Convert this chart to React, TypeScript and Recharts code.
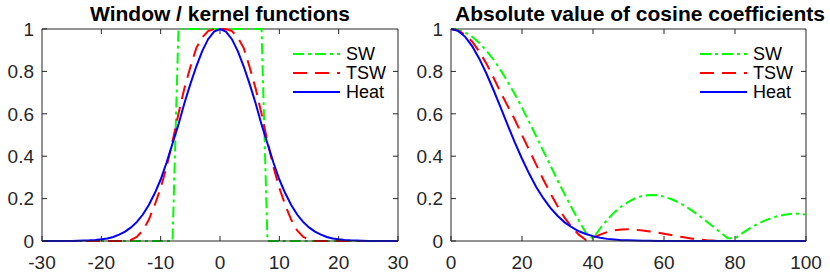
import { Line, LineChart, ReferenceLine, XAxis, YAxis } from 'recharts';

// left panel: window / kernel functions, sampled at integer x
const LEFT_X = [
  -30, -29, -28, -27, -26, -25, -24, -23, -22, -21, -20, -19, -18, -17, -16, -15, -14, -13, -12, -11,
  -10, -9, -8, -7, -6, -5, -4, -3, -2, -1, 0, 1, 2, 3, 4, 5, 6, 7, 8, 9, 10, 11, 12, 13, 14, 15, 16,
  17, 18, 19, 20, 21, 22, 23, 24, 25, 26, 27, 28, 29, 30,
];
const LEFT_SW = [
  0, 0, 0, 0, 0, 0, 0, 0, 0, 0, 0, 0, 0, 0, 0, 0, 0, 0, 0, 0, 0, 0, 0,
  1, 1, 1, 1, 1, 1, 1, 1, 1, 1, 1, 1, 1, 1, 1,
  0, 0, 0, 0, 0, 0, 0, 0, 0, 0, 0, 0, 0, 0, 0, 0, 0, 0, 0, 0, 0, 0, 0,
];
const LEFT_TSW = [
  0, 0, 0, 0, 0, 0, 0, 0, 0, 0, 0, 0, 0, 0, 0, 0.005, 0.02, 0.05, 0.1, 0.17,
  0.25, 0.35, 0.47, 0.6, 0.72, 0.82, 0.91, 0.96, 0.99, 1, 1, 1, 0.99, 0.96, 0.91, 0.82, 0.72, 0.6,
  0.47, 0.35, 0.25, 0.17, 0.1, 0.05, 0.02, 0.005, 0, 0, 0, 0, 0, 0, 0, 0, 0, 0, 0, 0, 0, 0, 0,
];
const LEFT_HEAT = [
  0, 0, 0, 0, 0, 0, 0.001, 0.002, 0.003, 0.005, 0.008, 0.012, 0.019, 0.03, 0.044, 0.064, 0.09,
  0.125, 0.17, 0.225, 0.29, 0.37, 0.46, 0.55, 0.65, 0.74, 0.823, 0.896, 0.952, 0.988, 1, 0.988,
  0.952, 0.896, 0.823, 0.74, 0.65, 0.55, 0.46, 0.37, 0.29, 0.225, 0.17, 0.125, 0.09, 0.064, 0.044,
  0.03, 0.019, 0.012, 0.008, 0.005, 0.003, 0.002, 0.001, 0, 0, 0, 0, 0, 0,
];
const LEFT_TICKS = [-30, -20, -10, 0, 10, 20, 30];

// right panel: |cosine coefficients|, every second index
const RIGHT_K = [
  0, 2, 4, 6, 8, 10, 12, 14, 16, 18, 20, 22, 24, 26, 28, 30, 32, 34, 36, 38, 40, 42, 44, 46, 48, 50,
  52, 54, 56, 58, 60, 62, 64, 66, 68, 70, 72, 74, 76, 78, 80, 82, 84, 86, 88, 90, 92, 94, 96, 98, 100,
];
const RIGHT_SW = [
  1, 0.996, 0.983, 0.963, 0.934, 0.898, 0.855, 0.806, 0.751, 0.692, 0.629, 0.562, 0.494, 0.425,
  0.356, 0.287, 0.221, 0.157, 0.096, 0.039, 0.012, 0.059, 0.1, 0.135, 0.163, 0.185, 0.203, 0.213,
  0.217, 0.216, 0.209, 0.198, 0.183, 0.164, 0.142, 0.118, 0.092, 0.066, 0.039, 0.013, 0.012, 0.036,
  0.058, 0.077, 0.094, 0.107, 0.117, 0.124, 0.128, 0.128, 0.125,
];
const RIGHT_TSW = [
  1, 0.993, 0.972, 0.94, 0.893, 0.836, 0.77, 0.7, 0.636, 0.572, 0.5, 0.43, 0.36, 0.29, 0.225, 0.165,
  0.11, 0.065, 0.03, 0.005, 0.015, 0.03, 0.042, 0.05, 0.054, 0.055, 0.053, 0.05, 0.045, 0.04, 0.034,
  0.028, 0.022, 0.016, 0.011, 0.007, 0.004, 0.002, 0.001, 0, 0, 0, 0, 0, 0, 0, 0, 0, 0, 0, 0,
];
const RIGHT_HEAT = [
  1, 0.991, 0.963, 0.918, 0.859, 0.789, 0.711, 0.629, 0.545, 0.464, 0.388, 0.318, 0.255, 0.202,
  0.156, 0.119, 0.088, 0.065, 0.046, 0.033, 0.023, 0.015, 0.01, 0.007, 0.004, 0.003, 0.002, 0.001,
  0.001, 0, 0, 0, 0, 0, 0, 0, 0, 0, 0, 0, 0, 0, 0, 0, 0, 0, 0, 0, 0, 0, 0,
];
const RIGHT_TICKS = [0, 20, 40, 60, 80, 100];

const Y_TICKS = [0, 0.2, 0.4, 0.6, 0.8, 1];

const SERIES = [
  { key: 'sw', label: 'SW', color: '#00ff00', dash: '11 4 3 4' },
  { key: 'tsw', label: 'TSW', color: '#ff0000', dash: '14 8' },
  { key: 'heat', label: 'Heat', color: '#0000ff', dash: undefined },
];

const FONT = "'Liberation Sans', Arial, Helvetica, sans-serif";
const AXIS = '#262626';
const PLOT_W = 356;
const PLOT_H = 212;
const TICK_PX = 5;

const leftData = LEFT_X.map((x, i) => ({ x, sw: LEFT_SW[i], tsw: LEFT_TSW[i], heat: LEFT_HEAT[i] }));
const rightData = RIGHT_K.map((x, i) => ({
  x,
  sw: RIGHT_SW[i],
  tsw: RIGHT_TSW[i],
  heat: RIGHT_HEAT[i],
}));

interface PanelProps {
  data: Array<Record<string, number>>;
  domain: [number, number];
  left: number;
  legendX: number;
  rightMargin: number;
  ticks: number[];
  title: string;
  titleX: number;
  yWidth: number;
}

function Panel({ data, domain, left, legendX, rightMargin, ticks, title, titleX, yWidth }: PanelProps) {
  const tickStyle = { fill: AXIS, fontSize: 19, fontFamily: FONT };
  const [x0, x1] = domain;
  // tick length in data units for the top / right frame ticks
  const dy = TICK_PX / PLOT_H;
  const dx = ((x1 - x0) * TICK_PX) / PLOT_W;
  return (
    <div style={{ position: 'absolute', left, top: 0, width: 415, height: 276 }}>
      <LineChart data={data} height={276} margin={{ top: 29, right: rightMargin, bottom: 0, left: 0 }} width={415}>
        <XAxis
          axisLine={{ stroke: AXIS }}
          dataKey="x"
          domain={domain}
          height={35}
          tick={tickStyle}
          tickLine={{ stroke: AXIS }}
          tickMargin={20}
          tickSize={-5}
          ticks={ticks}
          type="number"
        />
        <YAxis
          axisLine={{ stroke: AXIS }}
          domain={[0, 1]}
          tick={tickStyle}
          tickLine={{ stroke: AXIS }}
          tickMargin={13}
          tickSize={-5}
          ticks={Y_TICKS}
          type="number"
          width={yWidth}
        />
        <ReferenceLine ifOverflow="visible" stroke={AXIS} y={1} />
        <ReferenceLine ifOverflow="visible" stroke={AXIS} x={x1} />
        {ticks.slice(1, -1).map((t) => (
          <ReferenceLine
            ifOverflow="visible"
            key={`tt${t}`}
            segment={[
              { x: t, y: 1 },
              { x: t, y: 1 - dy },
            ]}
            stroke={AXIS}
          />
        ))}
        {Y_TICKS.slice(1, -1).map((t) => (
          <ReferenceLine
            ifOverflow="visible"
            key={`rt${t}`}
            segment={[
              { x: x1, y: t },
              { x: x1 - dx, y: t },
            ]}
            stroke={AXIS}
          />
        ))}
        {SERIES.map((s) => (
          <Line
            dataKey={s.key}
            dot={false}
            isAnimationActive={false}
            key={s.key}
            stroke={s.color}
            strokeDasharray={s.dash}
            strokeWidth={2}
            type="linear"
          />
        ))}
      </LineChart>
      <svg height={276} style={{ position: 'absolute', left: 0, top: 0, pointerEvents: 'none' }} width={415}>
        <text fill="#000" fontFamily={FONT} fontSize={21} fontWeight="bold" x={titleX} y={21}>
          {title}
        </text>
        {SERIES.map((s, i) => {
          const y = 54 + i * 19;
          return (
            <g key={s.key}>
              <line
                stroke={s.color}
                strokeDasharray={s.dash}
                strokeWidth={2}
                x1={legendX}
                x2={legendX + 47}
                y1={y}
                y2={y}
              />
              <text dominantBaseline="central" fill="#000" fontFamily={FONT} fontSize={18} x={legendX + 53} y={y}>
                {s.label}
              </text>
            </g>
          );
        })}
      </svg>
    </div>
  );
}

export default function App() {
  return (
    <div style={{ position: 'absolute', left: 0, top: 0, width: 830, height: 276, background: '#fff' }}>
      <Panel
        data={leftData}
        domain={[-30, 30]}
        left={0}
        legendX={293}
        rightMargin={17}
        ticks={LEFT_TICKS}
        title="Window / kernel functions"
        titleX={90}
        yWidth={42}
      />
      <Panel
        data={rightData}
        domain={[0, 100]}
        left={415}
        legendX={285}
        rightMargin={24}
        ticks={RIGHT_TICKS}
        title="Absolute value of cosine coefficients"
        titleX={40}
        yWidth={36}
      />
    </div>
  );
}
